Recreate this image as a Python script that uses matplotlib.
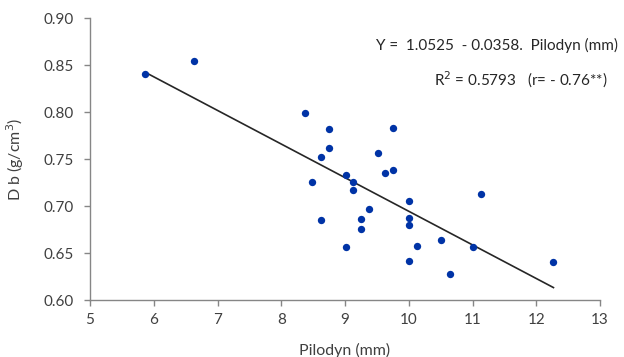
import matplotlib
matplotlib.use("Agg")
import matplotlib.pyplot as plt
import numpy as np

plt.rcParams['font.family'] = ['Lato', 'DejaVu Sans']

pilodyn = [5.87, 6.63, 8.38, 8.75, 9.75, 8.75, 8.62, 9.51, 9.02, 9.62, 9.75,
           9.12, 8.49, 9.12, 11.13, 10.01, 9.38, 9.25, 10.01, 10.01, 8.62,
           9.25, 10.51, 11.00, 10.13, 9.02, 10.01, 10.64, 12.27]
density = [0.841, 0.854, 0.799, 0.782, 0.7835, 0.762, 0.752, 0.757, 0.7335,
           0.7356, 0.7384, 0.726, 0.726, 0.7168, 0.7132, 0.7054, 0.6969,
           0.6866, 0.687, 0.6802, 0.6855, 0.6756, 0.6643, 0.6564, 0.6579,
           0.6564, 0.6412, 0.6277, 0.640]

intercept = 1.0525
slope = -0.0358

x_ticks = [5, 6, 7, 8, 9, 10, 11, 12, 13]
y_ticks = [0.60, 0.65, 0.70, 0.75, 0.80, 0.85, 0.90]

W, H = 624, 357
fig = plt.figure(figsize=(W/100, H/100), dpi=100)
ax = fig.add_axes([90/W, 1-300/H, 510/W, (300-18.3)/H])

ax.scatter(pilodyn, density, s=28, color='#0033A6', zorder=3, linewidths=0)
xl = np.array([min(pilodyn), max(pilodyn)])
ax.plot(xl, intercept + slope * xl, color='#262626', lw=1.2, zorder=2)

ax.set_xlim(5, 13)
ax.set_ylim(0.60, 0.90)
ax.set_xticks(x_ticks)
ax.set_yticks(y_ticks)
ax.set_xticklabels([str(t) for t in x_ticks])
ax.set_yticklabels([f"{t:.2f}" for t in y_ticks])

for s in ['top', 'right']:
    ax.spines[s].set_visible(False)
for s in ['left', 'bottom']:
    ax.spines[s].set_color('#868686')
    ax.spines[s].set_linewidth(1.0)
ax.tick_params(axis='both', direction='out', length=4.5, width=1.0, color='#868686',
               labelcolor='#404040', labelsize=11)
ax.tick_params(axis='y', pad=7)
ax.tick_params(axis='x', pad=5)

ax.set_xlabel('Pilodyn (mm)', fontsize=11.5, color='#404040', va='center')
ax.xaxis.set_label_coords(345/W, 1-350/H, transform=fig.transFigure)
ax.set_ylabel('D b (g/cm$^3$)', fontsize=11.5, color='#404040', va='center')
ax.yaxis.set_label_coords(15/W, 1-159/H, transform=fig.transFigure)

fig.text(618/W, 1-45/H, 'Y =  1.0525  - 0.0358.  Pilodyn (mm)', ha='right', va='center',
         fontsize=11, color='#262626')
fig.text(608/W, 1-80/H, 'R$^2$ = 0.5793   (r= - 0.76**)', ha='right', va='center',
         fontsize=11, color='#262626')

fig.savefig('out.png', dpi=100)
